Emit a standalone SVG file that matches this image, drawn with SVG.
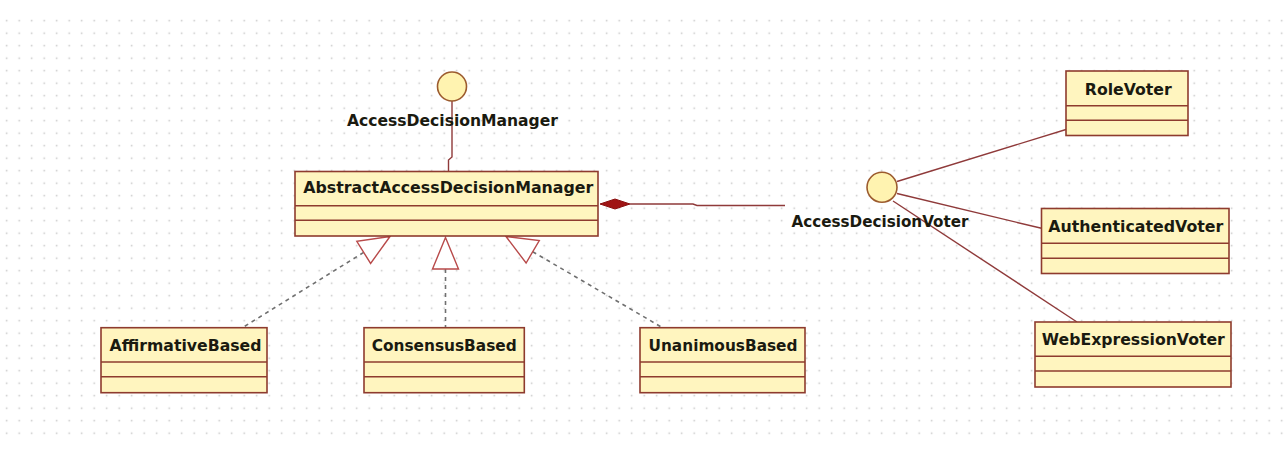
<svg xmlns="http://www.w3.org/2000/svg" width="1286" height="461" viewBox="0 0 1286 461">
<defs>
<pattern id="dots" patternUnits="userSpaceOnUse" x="0.45" y="14.45" width="12.5" height="12.5">
<rect x="5.5" y="5.5" width="1.5" height="1.5" fill="#c4c4c4"/>
</pattern>
<style>
.box{fill:#fff5bf;stroke:#8e3b2e;stroke-width:1.6}
.div{stroke:#8e3b2e;stroke-width:1.4;fill:none}
.lbl{font-family:"DejaVu Sans","Liberation Sans",sans-serif;font-weight:bold;font-size:15px;fill:#1a1a10;text-anchor:middle}
.iface{fill:#fff3b0;stroke:#9c5b2e;stroke-width:1.6}
.solid{stroke:#8f3a3a;stroke-width:1.4;fill:none}
.dash{stroke:#707070;stroke-width:1.6;stroke-dasharray:4 4;fill:none}
.tri{fill:#ffffff;stroke:#b84a4a;stroke-width:1.4}
</style>
</defs>
<rect width="1286" height="461" fill="#ffffff"/>
<rect x="0" y="14" width="1286" height="426" fill="url(#dots)"/>

<g id="connectors">
<polyline class="solid" points="452,101 452,157 448.5,160 448.5,171.5"/>
<polyline class="solid" points="630,204 693,204 697,205.5 785,205.5"/>
<polygon points="600,204 615,199 630,204 615,209" fill="#a01414" stroke="#8a1010" stroke-width="1"/>
<line class="solid" x1="897" y1="181.5" x2="1066" y2="129.5"/>
<line class="solid" x1="897" y1="193.5" x2="1041.5" y2="228.3"/>
<line class="solid" x1="893" y1="201" x2="1077" y2="322"/>
<line class="dash" x1="363.7" y1="252.4" x2="242" y2="328"/>
<polygon class="tri" points="390,236.5 370.6,263.4 356.8,241.4"/>
<line class="dash" x1="445.5" y1="269" x2="445.5" y2="328"/>
<polygon class="tri" points="445.5,237.5 432.5,269 458.5,269"/>
<line class="dash" x1="532.7" y1="251.7" x2="663" y2="328"/>
<polygon class="tri" points="506,236.5 526.1,263 539.3,240.5"/>
</g>

<g id="AccessDecisionManager">
<circle class="iface" cx="452" cy="86.5" r="14.5"/>
<text class="lbl" x="452.5" y="126" textLength="211" lengthAdjust="spacingAndGlyphs">AccessDecisionManager</text>
</g>

<g id="AbstractAccessDecisionManager">
<rect class="box" x="295" y="171.5" width="303" height="64.5"/>
<line class="div" x1="295" y1="205.7" x2="598" y2="205.7"/>
<line class="div" x1="295" y1="220.3" x2="598" y2="220.3"/>
<text class="lbl" x="448.3" y="193" textLength="290" lengthAdjust="spacingAndGlyphs">AbstractAccessDecisionManager</text>
</g>

<g id="AccessDecisionVoter">
<circle class="iface" cx="882" cy="187.3" r="15"/>
<text class="lbl" x="880" y="226.5" textLength="177" lengthAdjust="spacingAndGlyphs">AccessDecisionVoter</text>
</g>

<g id="RoleVoter">
<rect class="box" x="1066" y="71" width="122" height="64.5"/>
<line class="div" x1="1066" y1="105.8" x2="1188" y2="105.8"/>
<line class="div" x1="1066" y1="120.3" x2="1188" y2="120.3"/>
<text class="lbl" x="1128.3" y="94.5" textLength="87" lengthAdjust="spacingAndGlyphs">RoleVoter</text>
</g>

<g id="AuthenticatedVoter">
<rect class="box" x="1041.5" y="208.5" width="187.5" height="65"/>
<line class="div" x1="1041.5" y1="243.3" x2="1229" y2="243.3"/>
<line class="div" x1="1041.5" y1="258.3" x2="1229" y2="258.3"/>
<text class="lbl" x="1135.8" y="231.7" textLength="175" lengthAdjust="spacingAndGlyphs">AuthenticatedVoter</text>
</g>

<g id="WebExpressionVoter">
<rect class="box" x="1035" y="322" width="196" height="65"/>
<line class="div" x1="1035" y1="356.3" x2="1231" y2="356.3"/>
<line class="div" x1="1035" y1="371" x2="1231" y2="371"/>
<text class="lbl" x="1133.3" y="345" textLength="183" lengthAdjust="spacingAndGlyphs">WebExpressionVoter</text>
</g>

<g id="AffirmativeBased">
<rect class="box" x="101" y="327.7" width="166" height="65"/>
<line class="div" x1="101" y1="362" x2="267" y2="362"/>
<line class="div" x1="101" y1="376.7" x2="267" y2="376.7"/>
<text class="lbl" x="185.5" y="350.7" textLength="152" lengthAdjust="spacingAndGlyphs">AffirmativeBased</text>
</g>

<g id="ConsensusBased">
<rect class="box" x="364" y="327.7" width="160.3" height="65"/>
<line class="div" x1="364" y1="362" x2="524.3" y2="362"/>
<line class="div" x1="364" y1="376.7" x2="524.3" y2="376.7"/>
<text class="lbl" x="444.2" y="350.7" textLength="145" lengthAdjust="spacingAndGlyphs">ConsensusBased</text>
</g>

<g id="UnanimousBased">
<rect class="box" x="640" y="327.7" width="165" height="65"/>
<line class="div" x1="640" y1="362" x2="805" y2="362"/>
<line class="div" x1="640" y1="376.7" x2="805" y2="376.7"/>
<text class="lbl" x="723" y="350.7" textLength="149" lengthAdjust="spacingAndGlyphs">UnanimousBased</text>
</g>
</svg>
